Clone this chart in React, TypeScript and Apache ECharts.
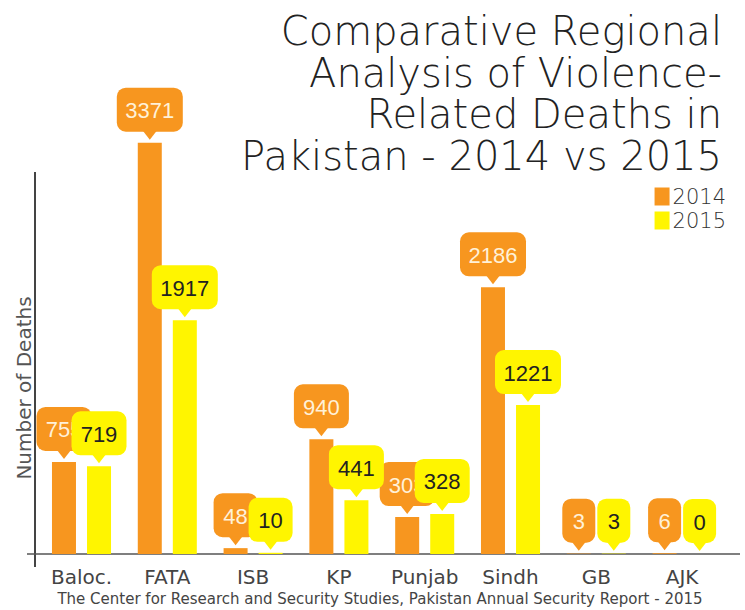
import React, { useEffect, useRef } from 'react';
import * as echarts from 'echarts';

const categories = ['Baloc.', 'FATA', 'ISB', 'KP', 'Punjab', 'Sindh', 'GB', 'AJK'];
const deaths2014 = [755, 3371, 48, 940, 303, 2186, 3, 6];
const deaths2015 = [719, 1917, 10, 441, 328, 1221, 3, 0];
const seriesNames = ['2014', '2015'];
const titleLines = ['Comparative Regional', 'Analysis of Violence-', 'Related Deaths in', 'Pakistan - 2014 vs 2015'];
const yAxisTitle = 'Number of Deaths';
const sourceNote = 'The Center for Research and Security Studies, Pakistan Annual Security Report - 2015';

const ORANGE = '#F7961F';
const YELLOW = '#FFF500';
const FONT = '"DejaVu Sans", sans-serif';

function bubbleRenderer(offset: number, fill: string, textColor: string) {
  return (params: any, api: any) => {
    const i = api.value(0);
    const v = api.value(1);
    const p = api.coord([i, v]);
    const cx = p[0] + offset;
    const tip = p[1] - 3;
    const rb = tip - 8;
    const h = 44;
    const label = String(v);
    const w = 11 * label.length + 22;
    return {
      type: 'group',
      children: [
        { type: 'rect', shape: { x: cx - w / 2, y: rb - h, width: w, height: h, r: 9 }, style: { fill } },
        { type: 'polygon', shape: { points: [[cx - 7, rb - 1], [cx + 7, rb - 1], [cx, tip]] }, style: { fill } },
        {
          type: 'text',
          style: {
            text: label, x: cx, y: rb - h / 2 + 1, align: 'center', verticalAlign: 'middle',
            fill: textColor, fontSize: 22, fontFamily: '"Liberation Sans", Arial, sans-serif',
          },
        },
      ],
    };
  };
}

export default function App() {
  const ref = useRef<HTMLDivElement>(null);
  useEffect(() => {
    if (!ref.current) return;
    const chart = echarts.init(ref.current, null, { renderer: 'svg' });
    const titleGraphics = titleLines.map((line, k) => ({
      type: 'text',
      x: 722,
      y: 31 + k * 41.5,
      style: {
        text: line, align: 'right', verticalAlign: 'middle',
        fontSize: 40, fontFamily: FONT, fontWeight: 200, fill: '#222',
      },
    }));
    chart.setOption({
      animation: false,
      backgroundColor: '#ffffff',
      grid: { left: 38.6, right: 20, top: 66, bottom: 56 },
      legend: {
        data: seriesNames,
        orient: 'vertical',
        right: 14,
        top: 181,
        itemWidth: 15,
        itemHeight: 18,
        itemGap: 3,
        icon: 'rect',
        textStyle: { fontSize: 21, lineHeight: 20, color: '#333', fontFamily: FONT, fontWeight: 200, padding: [0, 0, 0, -2] },
      },
      xAxis: {
        type: 'category',
        data: categories,
        axisLine: { show: false },
        axisTick: { show: false },
        axisLabel: { interval: 0, margin: 13, fontSize: 20, lineHeight: 20, color: '#444', fontFamily: FONT },
      },
      yAxis: { type: 'value', min: 0, max: 4000, show: false },
      graphic: [
        ...titleGraphics,
        { type: 'line', shape: { x1: 35, y1: 172, x2: 35, y2: 567 }, style: { stroke: '#444', lineWidth: 2 } },
        { type: 'line', shape: { x1: 27, y1: 554, x2: 740, y2: 554 }, style: { stroke: '#555', lineWidth: 1.5 } },
        {
          type: 'text', x: 24, y: 388, rotation: Math.PI / 2,
          style: { text: yAxisTitle, align: 'center', verticalAlign: 'middle', fontSize: 20, fontFamily: FONT, fill: '#555' },
        },
        {
          type: 'text', x: 380, y: 599,
          style: { text: sourceNote, align: 'center', verticalAlign: 'middle', fontSize: 15, fontFamily: FONT, fill: '#444' },
        },
      ],
      series: [
        {
          name: seriesNames[0], type: 'bar', data: deaths2014, barWidth: 24, barGap: '46%',
          itemStyle: { color: ORANGE },
        },
        {
          name: seriesNames[1], type: 'bar', data: deaths2015, barWidth: 24, barGap: '46%',
          itemStyle: { color: YELLOW },
        },
        {
          name: 'labels2014', type: 'custom', z: 5,
          data: deaths2014.map((v, i) => [i, v]),
          encode: { x: 0, y: 1 },
          renderItem: bubbleRenderer(-17.5, ORANGE, '#FFF1D8'),
        },
        {
          name: 'labels2015', type: 'custom', z: 5,
          data: deaths2015.map((v, i) => [i, v]),
          encode: { x: 0, y: 1 },
          renderItem: bubbleRenderer(17.5, YELLOW, '#222'),
        },
      ],
    });
    return () => chart.dispose();
  }, []);
  return <div ref={ref} style={{ position: 'absolute', left: 0, top: 0, width: 745, height: 610 }} />;
}
